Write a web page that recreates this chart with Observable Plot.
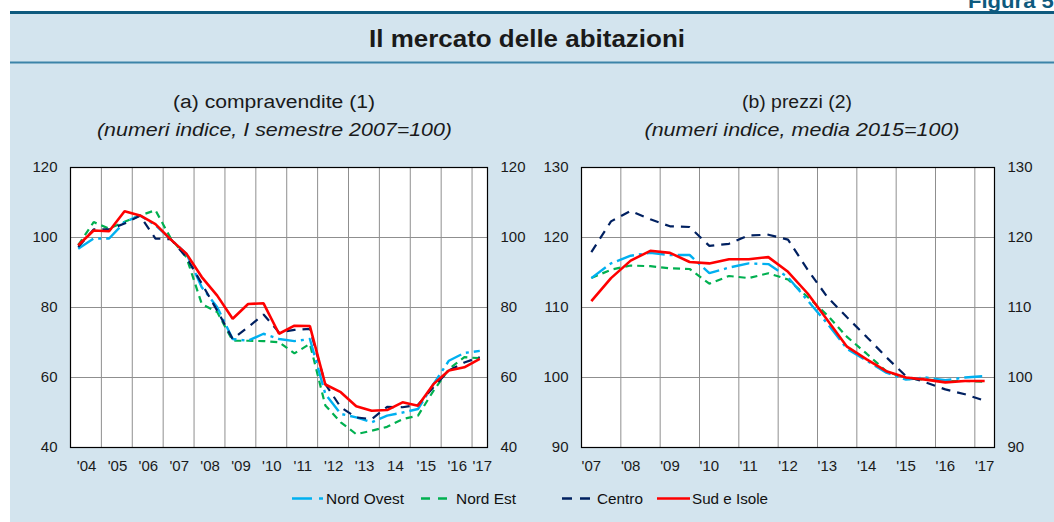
<!DOCTYPE html>
<html><head><meta charset="utf-8">
<script src="https://cdn.jsdelivr.net/npm/d3@7"></script>
<script src="https://cdn.jsdelivr.net/npm/@observablehq/plot@0.6"></script>
<style>
html,body{margin:0;padding:0;background:#fff;width:1054px;height:522px;overflow:hidden;font-family:"Liberation Sans",Arial,sans-serif;}
#bg{position:absolute;left:0;top:0;}
.chart{position:absolute;top:150px;}
</style></head><body>
<svg id="bg" width="1054" height="522"></svg>
<div id="left" class="chart" style="left:0px"></div>
<div id="right" class="chart" style="left:530px"></div>
<script>
// ---------- data ----------
const seriesNames = ["Nord Ovest", "Nord Est", "Centro", "Sud e Isole"];
const seriesColors = ["#00b0f0", "#00b050", "#002060", "#ff0000"];
const seriesDash = ["18,5,3,5", "7,5", "9,7", null];
const seriesWidth = [2.4, 2.2, 2.2, 2.6];

// (a) compravendite, semiannual 2004 H1 .. 2017 H1
const salesStartYear = 2004;
const salesNordOvest = [96.8,99.7,99.7,104.4,106.3,103.5,99.4,95.4,85.8,80.1,71.0,70.5,72.5,71.0,70.4,71.0,55.3,49.6,48.6,47.2,49.1,50.0,51.0,58.1,64.8,67.0,67.6];
const salesNordEst   = [97.8,104.4,102.5,104.5,106.3,107.8,99.7,94.4,81.0,78.7,70.5,70.5,70.4,70.1,66.9,69.6,52.0,47.2,43.8,44.8,45.9,48.1,49.1,56.2,62.4,65.8,65.5];
const salesCentro    = [97.3,102.3,102.3,104.0,106.2,99.7,99.5,94.4,86.8,79.1,71.0,74.4,78.0,72.9,73.6,73.9,58.1,51.5,48.6,48.1,51.6,51.5,52.2,57.2,62.0,64.3,65.8];
const salesSud       = [97.8,102.0,101.8,107.5,106.3,103.8,99.4,95.4,88.7,83.4,76.8,81.0,81.2,72.5,74.8,74.7,58.0,55.8,51.8,50.5,50.7,52.9,51.9,58.1,62.0,62.9,65.3];
const salesTickLabels = ["'04","'05","'06","'07","'08","'09","'10","'11","'12","'13","14","'15","'16","'17"];
const salesYTicks = [40, 60, 80, 100, 120];

// (b) prezzi, semiannual 2007 H1 .. 2017 H1
const pricesStartYear = 2007;
const pricesNordOvest = [114.2,116.3,117.4,117.8,117.5,117.5,114.9,115.7,116.3,116.2,114.3,111.0,107.7,104.1,102.4,100.7,99.7,100.0,99.6,100.0,100.2];
const pricesNordEst   = [114.2,115.4,116.0,115.9,115.6,115.5,113.4,114.5,114.2,114.9,114.0,111.5,108.9,105.8,103.4,100.9,99.8,99.7,99.5,99.5,99.4];
const pricesCentro    = [117.9,122.3,123.8,122.6,121.6,121.5,118.8,119.1,120.3,120.4,119.7,115.4,111.5,108.6,105.8,102.9,100.2,99.3,98.3,97.6,96.7];
const pricesSud       = [110.9,114.2,116.7,118.1,117.8,116.5,116.3,116.9,116.9,117.2,115.1,112.0,108.2,104.4,102.6,100.9,100.0,99.7,99.3,99.5,99.5];
const pricesTickLabels = ["'07","'08","'09","'10","'11","'12","'13","'14","'15","'16","'17"];
const pricesYTicks = [90, 100, 110, 120, 130];

// ---------- helpers ----------
function toRows(startYear, arrays) {
  const rows = [];
  arrays.forEach((arr, s) => arr.forEach((v, i) => {
    rows.push({series: seriesNames[s], x: startYear + Math.floor(i / 2) + (i % 2 ? 0.75 : 0.25), v});
  }));
  return rows;
}
const drawOrder = [1, 0, 2, 3];
const font = "'Liberation Sans', Arial, sans-serif";

function makeChart(cfg) {
  const rows = toRows(cfg.startYear, cfg.arrays);
  const lastYear = cfg.startYear + cfg.tickLabels.length - 1;
  const domainEnd = lastYear + 0.5;
  const gridYears = d3.range(cfg.startYear + 1, lastYear + 1);
  const tickPos = cfg.tickLabels.map((_, i) => Math.min(cfg.startYear + i + cfg.labelOffset, domainEnd - cfg.lastInset));
  const labelMap = new Map(tickPos.map((p, i) => [p, cfg.tickLabels[i]]));
  const marks = [
    Plot.frame({fill: "white"}),
    Plot.ruleX(gridYears, {stroke: "#8f8f8f", strokeWidth: 1}),
    Plot.ruleY(cfg.yTicks.slice(1, -1), {stroke: "#8f8f8f", strokeWidth: 1}),
  ];
  drawOrder.forEach(s => {
    marks.push(Plot.line(rows.filter(r => r.series === seriesNames[s]), {
      x: "x", y: "v", stroke: seriesColors[s], strokeWidth: seriesWidth[s],
      strokeDasharray: seriesDash[s] || undefined, strokeLinejoin: "miter", strokeLinecap: "butt"
    }));
  });
  marks.push(Plot.frame({stroke: "#000", strokeWidth: 1.2}));
  marks.push(Plot.axisY({anchor: "left", ticks: cfg.yTicks, tickSize: 0, tickPadding: 13, tickFormat: d => String(d), fontSize: 15}));
  marks.push(Plot.axisY({anchor: "right", ticks: cfg.yTicks, tickSize: 0, tickPadding: 13, tickFormat: d => String(d), fontSize: 15}));
  marks.push(Plot.axisX({ticks: tickPos, tickSize: 0, tickPadding: 13, tickFormat: d => labelMap.get(d), fontSize: 15}));
  return Plot.plot({
    width: cfg.width, height: 330,
    marginLeft: cfg.ml, marginRight: cfg.mr, marginTop: 17, marginBottom: 33,
    x: {domain: [cfg.startYear, domainEnd], label: null},
    y: {domain: [cfg.yTicks[0], cfg.yTicks[cfg.yTicks.length - 1]], label: null},
    style: {background: "transparent", fontFamily: font, fontSize: "15px", color: "#1a1a1a", overflow: "visible"},
    marks
  });
}

document.getElementById("left").appendChild(makeChart({
  startYear: salesStartYear, arrays: [salesNordOvest, salesNordEst, salesCentro, salesSud],
  tickLabels: salesTickLabels, yTicks: salesYTicks, width: 530, ml: 70, mr: 43, labelOffset: 0.52, lastInset: 0.17
}));
document.getElementById("right").appendChild(makeChart({
  startYear: pricesStartYear, arrays: [pricesNordOvest, pricesNordEst, pricesCentro, pricesSud],
  tickLabels: pricesTickLabels, yTicks: pricesYTicks, width: 524, ml: 51, mr: 60, labelOffset: 0.25, lastInset: 0.2
}));

// ---------- background, titles, legend ----------
const bg = d3.select("#bg");
bg.append("rect").attr("x", 10).attr("y", 11).attr("width", 1044).attr("height", 511).attr("fill", "#d3e4ee");
bg.append("rect").attr("x", 10).attr("y", 11).attr("width", 1044).attr("height", 3).attr("fill", "#0e5a7e");
bg.append("rect").attr("x", 10).attr("y", 61.5).attr("width", 1044).attr("height", 2).attr("fill", "#3c84a8");

function txt(s, x, y, size, opts = {}) {
  const t = bg.append("text").attr("x", x).attr("y", y).attr("font-size", size)
    .attr("font-family", font).attr("fill", opts.fill || "#1a1a1a")
    .attr("text-anchor", opts.anchor || "middle").text(s);
  if (opts.bold) t.attr("font-weight", "bold");
  if (opts.italic) t.attr("font-style", "italic");
  if (opts.len) t.attr("textLength", opts.len).attr("lengthAdjust", "spacingAndGlyphs");
  return t;
}
txt("Figura 5.", 968, 8, 20, {anchor: "start", bold: true, fill: "#0e5a7e", len: 92});
txt("Il mercato delle abitazioni", 527, 47, 23, {bold: true, len: 316});
txt("(a) compravendite (1)", 274, 108, 18, {len: 202});
txt("(numeri indice, I semestre 2007=100)", 274.5, 136, 18, {italic: true, len: 355});
txt("(b) prezzi (2)", 797, 108, 18, {len: 110});
txt("(numeri indice, media 2015=100)", 802, 136, 18, {italic: true, len: 315});

// legend
const legendItems = [
  {swatch: [292, 325], text: 326, len: 78},
  {swatch: [421, 450], text: 456, len: 60},
  {swatch: [562, 590], text: 597, len: 46},
  {swatch: [657, 690], text: 692, len: 76},
];
legendItems.forEach((it, s) => {
  const l = bg.append("line").attr("x1", it.swatch[0]).attr("x2", it.swatch[1]).attr("y1", 498.5).attr("y2", 498.5)
    .attr("stroke", seriesColors[s]).attr("stroke-width", 2.4);
  if (s === 0) l.attr("stroke-dasharray", "20,7,4,10");
  if (s === 1) l.attr("stroke-dasharray", "9,8");
  if (s === 2) l.attr("stroke-dasharray", "10,8");
  txt(seriesNames[s], it.text, 503.5, 15, {anchor: "start", len: it.len, fill: "#111"});
});
</script>
</body></html>
